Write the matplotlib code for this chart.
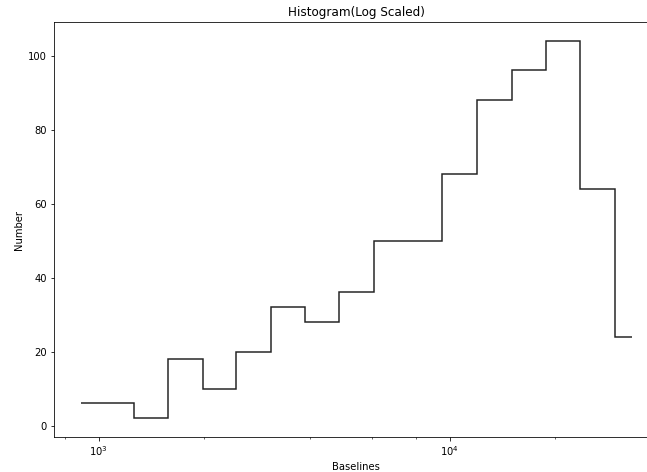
import numpy as np
import matplotlib
matplotlib.use('Agg')
import matplotlib.pyplot as plt
from matplotlib.ticker import LogLocator, NullFormatter

# bin edges (baseline length) and counts
bin_edges = [890, 1260, 1580, 1980, 2470, 3100, 3880, 4850, 6110,
             9530, 11990, 15050, 18770, 23560, 29570, 33060]
counts = [6, 2, 18, 10, 20, 32, 28, 36, 50, 68, 88, 96, 104, 64, 24]

fig = plt.figure(figsize=(647 / 72, 472 / 72), dpi=72)
ax = fig.add_axes([54 / 647, 1 - 437 / 472, 604 / 647, 415 / 472])

ax.stairs(counts, bin_edges, baseline=None, color='#222222', linewidth=1.5)

ax.set_xscale('log')
ax.set_xlim(10 ** 2.873, 10 ** 4.594)
ax.set_ylim(-3.1, 109.1)
ax.set_yticks([0, 20, 40, 60, 80, 100])
ax.xaxis.set_minor_locator(LogLocator(subs=(2, 4, 6, 8)))
ax.xaxis.set_minor_formatter(NullFormatter())

ax.set_title('Histogram(Log Scaled)')
ax.set_xlabel('Baselines')
ax.set_ylabel('Number')

fig.savefig('out.png', dpi=72)
